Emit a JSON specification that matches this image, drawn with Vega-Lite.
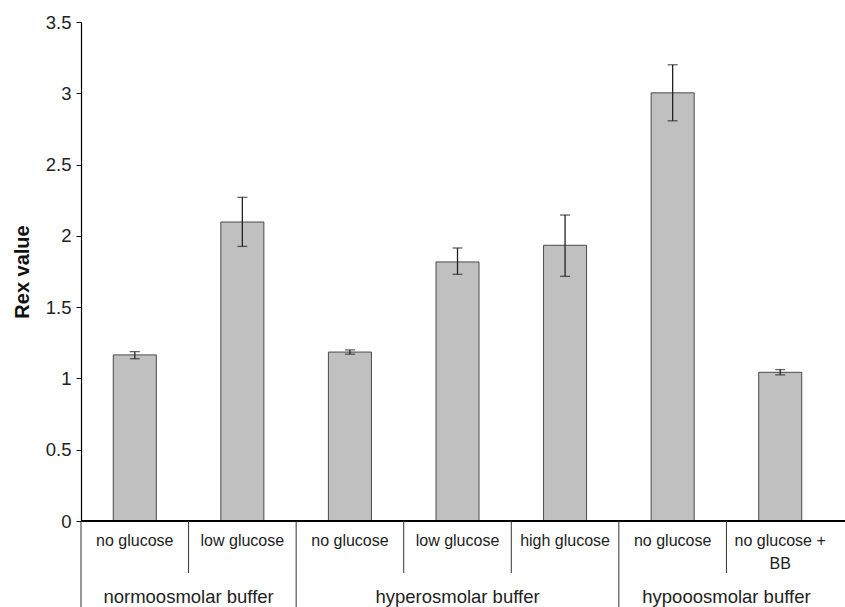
{
  "$schema": "https://vega.github.io/schema/vega-lite/v6.json",
  "width": 764,
  "height": 499,
  "autosize": {"type": "none"},
  "padding": {"left": 81, "top": 22, "right": 0, "bottom": 86},
  "background": "white",
  "config": {"view": {"stroke": null}, "font": "Liberation Sans"},
  "data": {
    "values": [
      {"cond": "normo|no glucose", "rex": 1.165, "lo": 1.138, "hi": 1.188, "sep": "long"},
      {"cond": "normo|low glucose", "rex": 2.097, "lo": 1.926, "hi": 2.27, "sep": "short", "glabel": "normoosmolar buffer", "gpos": "edge"},
      {"cond": "hyper|no glucose", "rex": 1.185, "lo": 1.17, "hi": 1.2, "sep": "long"},
      {"cond": "hyper|low glucose", "rex": 1.817, "lo": 1.73, "hi": 1.915, "sep": "short", "glabel": "hyperosmolar buffer", "gpos": "mid"},
      {"cond": "hyper|high glucose", "rex": 1.934, "lo": 1.716, "hi": 2.146, "sep": "short"},
      {"cond": "hypo|no glucose", "rex": 3.003, "lo": 2.807, "hi": 3.2, "sep": "long"},
      {"cond": "hypo|no glucose +|BB", "rex": 1.043, "lo": 1.025, "hi": 1.062, "sep": "short", "glabel": "hypooosmolar buffer", "gpos": "edge"}
    ]
  },
  "layer": [
    {
      "mark": {"type": "bar", "fill": "#c0c0c0", "stroke": "#4a4a4a", "strokeWidth": 1, "width": {"band": 0.4}},
      "encoding": {
        "x": {
          "field": "cond", "type": "nominal", "sort": null, "title": null,
          "scale": {"paddingInner": 0, "paddingOuter": 0, "range": [0, 753]},
          "axis": {
            "title": null, "ticks": false, "domain": false,
            "labelAngle": 0, "labelFontSize": 16, "labelColor": "#222", "labelBaseline": "top",
            "labelPadding": 11, "labelLineHeight": 23, "labelOverlap": false, "labelLimit": 200,
            "labelExpr": "slice(split(datum.label, '|'), 1)"
          }
        },
        "y": {
          "field": "rex", "type": "quantitative", "title": "Rex value",
          "scale": {"domain": [0, 3.5], "nice": false},
          "axis": {
            "title": "Rex value", "titleFontSize": 20, "titleFontWeight": "bold", "titleColor": "#111",
            "titleX": -53, "titleBaseline": "alphabetic", "titleAngle": -90,
            "values": [0, 0.5, 1, 1.5, 2, 2.5, 3, 3.5], "format": "~g", "grid": false,
            "domainColor": "#000", "domainWidth": 1.2, "tickColor": "#000", "tickSize": 5,
            "labelFontSize": 18.5, "labelColor": "#222", "labelPadding": 5
          }
        }
      }
    },
    {
      "mark": {"type": "errorbar", "color": "#222", "thickness": 1.3, "ticks": {"size": 10, "color": "#222"}},
      "encoding": {
        "x": {"field": "cond", "type": "nominal", "sort": null, "title": null},
        "y": {"field": "lo", "type": "quantitative", "title": "Rex value"},
        "y2": {"field": "hi"}
      }
    },
    {
      "mark": {"type": "rule", "color": "#000", "strokeWidth": 1.2},
      "encoding": {
        "y": {"datum": 0, "type": "quantitative", "title": "Rex value"}
      }
    },
    {
      "transform": [{"filter": "datum.sep === 'short'"}],
      "mark": {"type": "rule", "color": "#333", "strokeWidth": 1},
      "encoding": {
        "x": {"field": "cond", "type": "nominal", "sort": null, "bandPosition": 0, "title": null},
        "y": {"datum": 0, "type": "quantitative", "title": "Rex value"},
        "y2": {"datum": -0.365}
      }
    },
    {
      "transform": [{"filter": "datum.sep === 'long'"}],
      "mark": {"type": "rule", "color": "#333", "strokeWidth": 1},
      "encoding": {
        "x": {"field": "cond", "type": "nominal", "sort": null, "bandPosition": 0, "title": null},
        "y": {"datum": 0, "type": "quantitative", "title": "Rex value"},
        "y2": {"datum": -0.62}
      }
    },
    {
      "transform": [{"filter": "datum.gpos === 'edge'"}],
      "mark": {"type": "text", "fontSize": 18.5, "color": "#222", "baseline": "middle", "align": "center"},
      "encoding": {
        "x": {"field": "cond", "type": "nominal", "sort": null, "bandPosition": 0, "title": null},
        "y": {"datum": -0.534, "type": "quantitative", "title": "Rex value"},
        "text": {"field": "glabel"}
      }
    },
    {
      "transform": [{"filter": "datum.gpos === 'mid'"}],
      "mark": {"type": "text", "fontSize": 18.5, "color": "#222", "baseline": "middle", "align": "center"},
      "encoding": {
        "x": {"field": "cond", "type": "nominal", "sort": null, "bandPosition": 0.5, "title": null},
        "y": {"datum": -0.534, "type": "quantitative", "title": "Rex value"},
        "text": {"field": "glabel"}
      }
    }
  ]
}
